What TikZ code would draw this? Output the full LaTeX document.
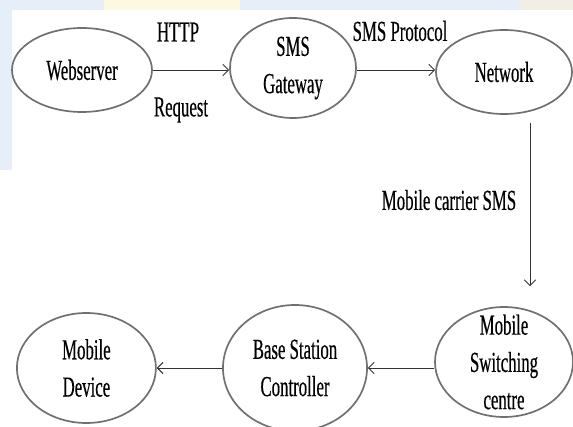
\documentclass[tikz,border=0pt]{standalone}
\usepackage{fontspec}
\setmainfont{Liberation Serif}[FakeStretch=0.58,FakeBold=0.4]
\usetikzlibrary{shapes.geometric,arrows.meta}

\definecolor{rimgray}{RGB}{112,112,112}
\definecolor{slideblue}{RGB}{230,238,250}
\definecolor{slideyellow}{RGB}{252,249,224}
\definecolor{slidebeige}{RGB}{242,238,230}

\tikzset{
  unit/.style={ellipse, draw=rimgray, line width=1.2pt, inner sep=0pt},
  txt/.style={align=center, font=\fontsize{20.6}{26.5}\selectfont},
  flow/.style={-{Straight Barb[length=4pt,width=8pt]}, draw=black!80, line width=0.7pt},
  tag/.style={font=\fontsize{20.6}{26}\selectfont}
}

\begin{document}
\begin{tikzpicture}
\useasboundingbox (0,0) rectangle (14.325,10.65);
\clip (0,0) rectangle (14.325,10.65);
% slide behind the chart
\fill[slideblue] (0,6.4) rectangle (14.325,10.65);
\fill[slideyellow] (2.6,10.3) rectangle (6.0,10.65);
\fill[slidebeige] (13.0,10.3) rectangle (14.325,10.65);
\fill[white] (0.3,0) rectangle (14.325,10.4);
\fill[white] (0,0) rectangle (0.3,6.4);

% top row
\node[unit, minimum width=3.5cm, minimum height=2.1cm,
  label={[txt]center:Webserver}] (web) at (2.05,8.9) {};
\node[unit, minimum width=3.15cm, minimum height=2.5cm,
  label={[txt]center:SMS\\Gateway}] (gw) at (7.325,8.95) {};
\node[unit, minimum width=3.4cm, minimum height=2.1cm,
  label={[txt]center:Network}] (net) at (12.6,8.85) {};

% bottom row
\node[unit, minimum width=3.45cm, minimum height=2.75cm,
  label={[txt]center:Mobile\\Switching\\centre}] (msc) at (12.6,1.6) {};
\node[unit, minimum width=3.6cm, minimum height=3.15cm,
  label={[txt]center:Base Station\\Controller}] (bsc) at (7.375,1.45) {};
\node[unit, minimum width=3.475cm, minimum height=2.75cm,
  label={[txt]center:Mobile\\Device}] (dev) at (2.16,1.45) {};

% links
\draw[flow] (web.east) -- (web.east -| gw.west);
\draw[flow] (gw.east |- web.east) -- (web.east -| net.west);
\draw[flow] ([xshift=0.65cm,yshift=-0.2cm]net.south) -- ([xshift=0.65cm,yshift=0.5cm]msc.north);
\draw[flow] (msc.west |- bsc.east) -- (bsc.east);
\draw[flow] (bsc.west) -- (dev.east);

% link labels
\node[tag] (http) at (4.45,9.85) {HTTP};
\node[tag] (req) at (4.525,7.9) {Request};
\node[tag] (proto) at (10.0,9.875) {SMS Protocol};
\node[tag] (carrier) at (11.225,5.65) {Mobile carrier SMS};
\end{tikzpicture}
\end{document}
